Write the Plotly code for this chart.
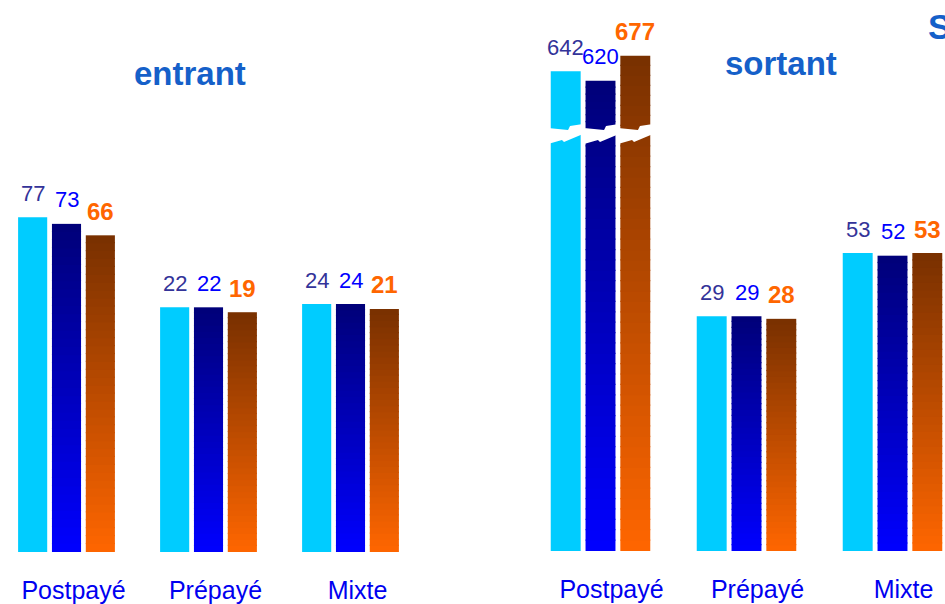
import plotly.graph_objects as go

# ---------------- data ----------------
categories = ["Postpayé", "Prépayé", "Mixte"]
series_names = ["Série 1", "Série 2", "Série 3"]
entrant_s1 = [77, 22, 24]
entrant_s2 = [73, 22, 24]
entrant_s3 = [66, 19, 21]
sortant_s1 = [642, 29, 53]
sortant_s2 = [620, 29, 52]
sortant_s3 = [677, 28, 53]
panel_titles = ["entrant", "sortant"]
extra_title = "S"

# ---------------- style ----------------
W, H = 945, 604
FONT = "Liberation Sans, Arial, sans-serif"
SERIES_COLORS = [("#00CCFF", "#00CCFF"), ("#0000FF", "#000078"), ("#FF6600", "#783000")]  # (bottom, top)
LABEL_COLORS = ["#333399", "#0000FF", "#FF6600"]
LABEL_BOLD = [False, False, True]
LABEL_SIZE = [22, 22, 24]
TITLE_COLOR = "#1560C9"
CAT_COLOR = "#0000F0"
BARGAP = 0.285
BARGROUPGAP = 0.14
N_SLICES = 40
N_UP = 8
LABEL_YSHIFT = 24
OVERLAP_PX = 1.2


def py(p):
    return 1 - p / H


def hex2rgb(h):
    h = h.lstrip("#")
    return [int(h[i:i + 2], 16) for i in (0, 2, 4)]


def lerp(c0, c1, t):
    a, b = hex2rgb(c0), hex2rgb(c1)
    return "rgb(%d,%d,%d)" % tuple(round(a[i] + (b[i] - a[i]) * t) for i in range(3))


# ---------------- panel geometry ----------------
# entrant
E_dom_x = [0.0, 0.45]
E_slot, E_c0 = 142.0, 66.5
E_r0 = -E_c0 / E_slot
E_r1 = E_r0 + (E_dom_x[1] - E_dom_x[0]) * W / E_slot
E_base_px = 552
E_ppu = 1.636
E_base = -208.7 / E_ppu
E_top = E_base + E_base_px / E_ppu

# sortant (broken axis)
S_dom_x = [0.55, 1.0]
S_slot, S_c0 = 146.0, 600.5
S_r0 = (S_dom_x[0] * W - S_c0) / S_slot
S_r1 = S_r0 + (S_dom_x[1] - S_dom_x[0]) * W / S_slot
S_base_px, S_break_px = 551, 136
S_ppu = 2.631
S_base = -158.5 / S_ppu
S_low_top = S_base + (S_base_px - S_break_px) / S_ppu
S_up_ppu = 0.4386
S_up_bottom = 494.3
S_up_top = S_up_bottom + S_break_px / S_up_ppu

fig = go.Figure()


def slices(lo, hi, n, ppu):
    """start/height of n gradient slices between lo and hi, with a small overlap"""
    ov = OVERLAP_PX / ppu
    out = []
    for k in range(n):
        s = lo + (hi - lo) * k / n
        e = min(lo + (hi - lo) * (k + 1) / n + ov, hi)
        out.append((s, e - s))
    return out


def add_panel(xa, ya_low, ya_up, values, base, low_top, ppu_low, up_bottom=None, up_ppu=None, slot=142.0):
    low_px = (low_top - base) * ppu_low
    pitch = slot * (1 - BARGAP) / 3
    for j, vals in enumerate(values):
        c_bot, c_top = SERIES_COLORS[j]
        n = 1 if c_bot == c_top else N_SLICES
        broken = [ya_up is not None and v > low_top for v in vals]
        vis = [low_px + (v - up_bottom) * up_ppu if b else (v - base) * ppu_low
               for v, b in zip(vals, broken)]
        frac_low = [low_px / h if b else 1.0 for h, b in zip(vis, broken)]
        hi = [low_top if b else v for v, b in zip(vals, broken)]
        sl = [slices(base, h, n, ppu_low) for h in hi]
        for k in range(n):
            bases = [s[k][0] for s in sl]
            heights = [s[k][1] for s in sl]
            cols = [lerp(c_bot, c_top, (k + 0.5) / n * f) for f in frac_low]
            fig.add_trace(go.Bar(
                x=categories, y=heights, base=bases, name=series_names[j],
                marker=dict(color=cols, line=dict(width=0)),
                offsetgroup=str(j), xaxis=xa, yaxis=ya_low,
                hoverinfo="skip", showlegend=False))
        if ya_up is not None and any(broken):
            nu = 1 if c_bot == c_top else N_UP
            su = [slices(up_bottom, v, nu, up_ppu) if b else None for v, b in zip(vals, broken)]
            for k in range(nu):
                bases = [s[k][0] if s else None for s in su]
                heights = [s[k][1] if s else None for s in su]
                cols = [lerp(c_bot, c_top, f + (1 - f) * (k + 0.5) / nu) for f in frac_low]
                fig.add_trace(go.Bar(
                    x=categories, y=heights, base=bases, name=series_names[j],
                    marker=dict(color=cols, line=dict(width=0)),
                    offsetgroup=str(j), xaxis=xa, yaxis=ya_up,
                    hoverinfo="skip", showlegend=False))
        # value labels
        for cat, v, b in zip(categories, vals, broken):
            fig.add_annotation(
                x=cat, y=v, xref=xa, yref=(ya_up if b else ya_low),
                text=("<b>%d</b>" % v) if LABEL_BOLD[j] else str(v),
                showarrow=False, xshift=(j - 1) * pitch, yshift=LABEL_YSHIFT,
                xanchor="center", yanchor="middle",
                font=dict(family=FONT, size=LABEL_SIZE[j], color=LABEL_COLORS[j]))


add_panel("x", "y", None, [entrant_s1, entrant_s2, entrant_s3],
          E_base, E_top, E_ppu, slot=E_slot)
add_panel("x2", "y2", "y3", [sortant_s1, sortant_s2, sortant_s3],
          S_base, S_low_top, S_ppu, S_up_bottom, S_up_ppu, slot=S_slot)

# titles
fig.add_annotation(x=190 / W, y=py(73), xref="paper", yref="paper", text="<b>%s</b>" % panel_titles[0],
                   xanchor="center", yanchor="middle", showarrow=False,
                   font=dict(family=FONT, size=33, color=TITLE_COLOR))
fig.add_annotation(x=781 / W, y=py(63), xref="paper", yref="paper", text="<b>%s</b>" % panel_titles[1],
                   xanchor="center", yanchor="middle", showarrow=False,
                   font=dict(family=FONT, size=33, color=TITLE_COLOR))
fig.add_annotation(x=926 / W, y=py(26), xref="paper", yref="paper", text="<b>%s</b>" % extra_title,
                   xanchor="left", yanchor="middle", showarrow=False,
                   font=dict(family=FONT, size=35, color=TITLE_COLOR))

# axis-break zigzag (white)
top_pts, bot_pts = [], []
for x0 in (548, 584, 618):
    top_pts += [(x0, 128), (x0 + 20, 130), (x0 + 22, 126), (x0 + 35, 124)]
    bot_pts += [(x0, 144), (x0 + 14, 140), (x0 + 16, 142), (x0 + 35, 134)]
pts = top_pts + bot_pts[::-1]
path = "M " + " L ".join("%.4f,%.4f" % (x / W, py(y)) for x, y in pts) + " Z"
fig.add_shape(type="path", path=path, xref="paper", yref="paper",
              fillcolor="white", line=dict(width=0), layer="above")

xaxis_common = dict(type="category", categoryorder="array", categoryarray=categories,
                    showline=False, showgrid=False, zeroline=False, ticks="",
                    tickfont=dict(family=FONT, size=25, color=CAT_COLOR),
                    ticklabelstandoff=21, fixedrange=True)
yaxis_common = dict(visible=False, showgrid=False, zeroline=False, fixedrange=True)

fig.update_layout(
    width=W, height=H,
    margin=dict(l=0, r=0, t=0, b=0),
    paper_bgcolor="white", plot_bgcolor="white",
    barmode="group", bargap=BARGAP, bargroupgap=BARGROUPGAP,
    showlegend=False,
    xaxis=dict(domain=E_dom_x, range=[E_r0, E_r1], anchor="y", ticklabelshift=7, **xaxis_common),
    yaxis=dict(domain=[py(E_base_px), 1], range=[E_base, E_top], anchor="x", **yaxis_common),
    xaxis2=dict(domain=S_dom_x, range=[S_r0, S_r1], anchor="y2", ticklabelshift=11, **xaxis_common),
    yaxis2=dict(domain=[py(S_base_px), py(S_break_px)], range=[S_base, S_low_top], anchor="x2", **yaxis_common),
    yaxis3=dict(domain=[py(S_break_px), 1], range=[S_up_bottom, S_up_top], anchor="x2", **yaxis_common),
)

fig.write_html("out.html", config={"displayModeBar": False},
               post_script="document.body.style.margin='0';document.body.style.overflow='hidden';")
